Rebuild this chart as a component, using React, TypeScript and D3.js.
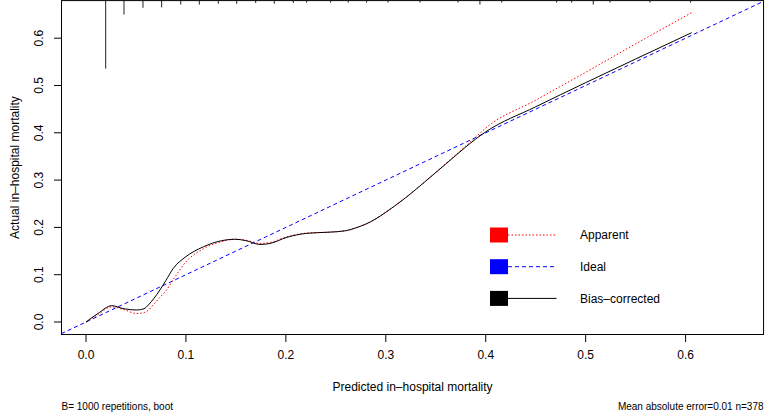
import React from "react";
import * as d3 from "d3";

// ---- data ----
const predGrid = [0, 0.012, 0.0257, 0.038, 0.0507, 0.058, 0.0624, 0.068, 0.074, 0.08, 0.0874, 0.0991, 0.1175, 0.1358, 0.149, 0.16, 0.174, 0.184, 0.201, 0.221, 0.244, 0.26, 0.27, 0.28, 0.29, 0.3, 0.32, 0.34, 0.36, 0.38, 0.39, 0.4, 0.45, 0.5, 0.55, 0.606];
const biasCorrected = [0, 0.018, 0.0345, 0.028, 0.0254, 0.028, 0.036, 0.05, 0.0677, 0.088, 0.1135, 0.1368, 0.159, 0.172, 0.175, 0.172, 0.164, 0.166, 0.179, 0.1875, 0.19, 0.193, 0.199, 0.207, 0.218, 0.232, 0.263, 0.298, 0.334, 0.37, 0.387, 0.402, 0.455, 0.506, 0.556, 0.6116];
const apparent = [0, 0.016, 0.032, 0.026, 0.018, 0.02, 0.025, 0.038, 0.052, 0.066, 0.09, 0.125, 0.155, 0.17, 0.175, 0.173, 0.166, 0.168, 0.18, 0.188, 0.19, 0.193, 0.199, 0.207, 0.218, 0.232, 0.263, 0.298, 0.335, 0.372, 0.391, 0.41, 0.469, 0.528, 0.588, 0.654];

const rugValues = [0.0197, 0.038, 0.057, 0.0757, 0.0948, 0.1134, 0.1324, 0.1508, 0.1698, 0.1884, 0.2074, 0.2208, 0.2448, 0.2624, 0.2808, 0.3022, 0.3342, 0.3722, 0.3942, 0.416, 0.471, 0.486, 0.5076, 0.5243, 0.5643, 0.605];
const rugCounts = [170, 35, 18, 17, 10, 10, 8, 8, 6, 8, 6, 5, 5, 5, 5, 5, 5, 5, 10, 5, 5, 5, 10, 5, 5, 5];

const xTicks = [0, 0.1, 0.2, 0.3, 0.4, 0.5, 0.6];
const yTicks = [0, 0.1, 0.2, 0.3, 0.4, 0.5, 0.6];
const xLim = [-0.0245, 0.678];
const yLim = [-0.0264, 0.6795];

const xTitle = "Predicted in\u2013hospital mortality";
const yTitle = "Actual in\u2013hospital mortality";
const footLeft = "B= 1000 repetitions, boot";
const footRight = "Mean absolute error=0.01 n=378";

const legendItems = [
  { label: "Apparent", color: "#ff0000", dash: "1.5,2" },
  { label: "Ideal", color: "#0000ff", dash: "4,3" },
  { label: "Bias\u2013corrected", color: "#000000", dash: "none" },
];

const FONT = "'Liberation Sans', Arial, Helvetica, sans-serif";

export default function App() {
  const x = d3.scaleLinear().domain([0, 0.6]).range([86, 685.6]);
  const y = d3.scaleLinear().domain([0, 0.6]).range([322, 38.2]);
  const left = x(xLim[0]);
  const right = x(xLim[1]);
  const top = y(yLim[1]);
  const bottom = y(yLim[0]);

  const line = d3
    .line<number>()
    .x((_, i) => x(predGrid[i]))
    .curve(d3.curveMonotoneX);
  const bcPath = line.y((d) => y(d))(biasCorrected) || "";
  const apPath = line.y((d) => y(d))(apparent) || "";

  const rugK = 0.4;

  return (
    <svg
      width={766}
      height={414}
      style={{ position: "absolute", left: 0, top: 0, background: "#fff" }}
      fontFamily={FONT}
    >
      <defs>
        <clipPath id="plotclip">
          <rect x={left} y={top} width={right - left} height={bottom - top} />
        </clipPath>
      </defs>
      <rect x={0} y={0} width={766} height={414} fill="#fff" />

      <g clipPath="url(#plotclip)">
        <line
          x1={x(-0.05)}
          y1={y(-0.05)}
          x2={x(0.7)}
          y2={y(0.7)}
          stroke="#0000ff"
          strokeWidth={1}
          strokeDasharray="4,3"
        />
        <path d={apPath} fill="none" stroke="#ff0000" strokeWidth={1} strokeDasharray="1.5,2" />
        <path d={bcPath} fill="none" stroke="#000" strokeWidth={1} />
        {rugValues.map((v, i) => (
          <line
            key={i}
            x1={x(v)}
            x2={x(v)}
            y1={top}
            y2={top + rugCounts[i] * rugK}
            stroke="#222"
            strokeWidth={1}
          />
        ))}
      </g>

      <rect
        x={left}
        y={top}
        width={right - left}
        height={bottom - top}
        fill="none"
        stroke="#000"
        strokeWidth={1}
      />

      {xTicks.map((t) => (
        <g key={t}>
          <line x1={x(t)} x2={x(t)} y1={bottom} y2={bottom + 7.5} stroke="#000" />
          <text x={x(t)} y={359} textAnchor="middle" fontSize={12} fill="#000">
            {d3.format(".1f")(t)}
          </text>
        </g>
      ))}
      {yTicks.map((t) => (
        <g key={t}>
          <line x1={left} x2={left - 7.5} y1={y(t)} y2={y(t)} stroke="#000" />
          <text
            transform={`translate(${43},${y(t)}) rotate(-90)`}
            textAnchor="middle"
            fontSize={12}
            fill="#000"
          >
            {d3.format(".1f")(t)}
          </text>
        </g>
      ))}

      <text x={(left + right) / 2} y={391} textAnchor="middle" fontSize={12}>
        {xTitle}
      </text>
      <text
        transform={`translate(${19},${(top + bottom) / 2}) rotate(-90)`}
        textAnchor="middle"
        fontSize={12}
      >
        {yTitle}
      </text>

      <text x={left} y={410} fontSize={10}>
        {footLeft}
      </text>
      <text x={right} y={410} fontSize={10} textAnchor="end">
        {footRight}
      </text>

      {legendItems.map((it, i) => {
        const cy = 235 + i * 31.7;
        return (
          <g key={it.label}>
            <rect x={490} y={cy - 7.5} width={18} height={15} fill={it.color} />
            <line
              x1={508}
              x2={556.5}
              y1={cy}
              y2={cy}
              stroke={it.color}
              strokeWidth={1}
              strokeDasharray={it.dash}
            />
            <text x={580} y={cy + 4.3} fontSize={12}>
              {it.label}
            </text>
          </g>
        );
      })}
    </svg>
  );
}
